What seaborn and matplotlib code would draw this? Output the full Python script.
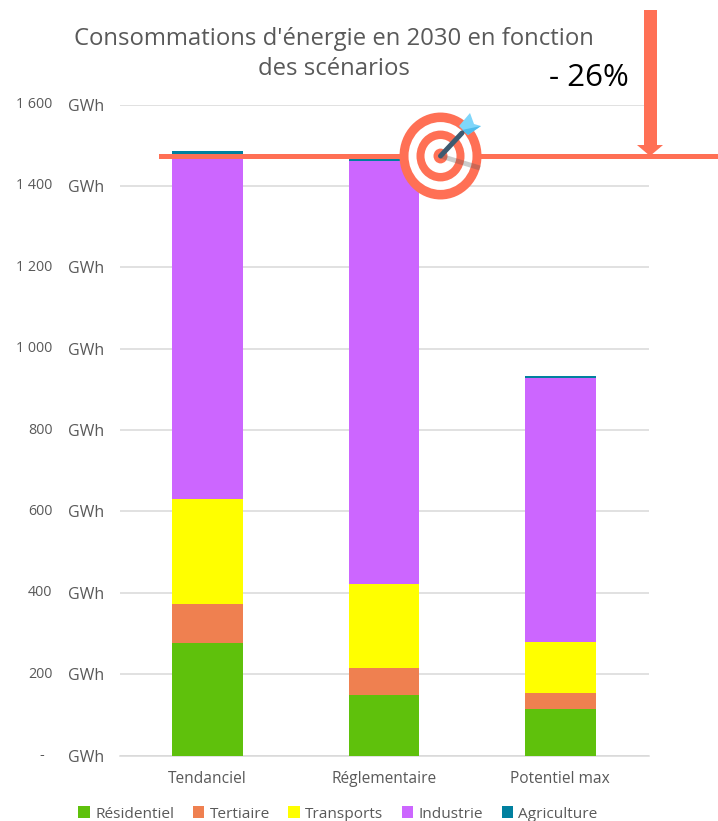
import matplotlib
matplotlib.use("Agg")
import matplotlib.pyplot as plt
from matplotlib.patches import Ellipse, Polygon, Rectangle
import numpy as np
import seaborn as sns

sns.set_style("white")
plt.rcParams["font.family"] = ["Open Sans", "DejaVu Sans"]

# Values (GWh)
scenarios = ["Tendanciel", "Réglementaire", "Potentiel max"]
residentiel = [276, 149, 114]
tertiaire = [96, 66, 39]
transports = [258, 206, 126]
industrie = [848, 1040, 650]
agriculture = [7, 5, 4]

sectors = ["Résidentiel", "Tertiaire", "Transports", "Industrie", "Agriculture"]
sector_values = [residentiel, tertiaire, transports, industrie, agriculture]
sector_colors = ["#5FC10C", "#EF8050", "#FFFF00", "#CC66FF", "#00809F"]

y_ticks = [0, 200, 400, 600, 800, 1000, 1200, 1400, 1600]
y_numbers = ["-", "200", "400", "600", "800", "1 000", "1 200", "1 400", "1 600"]

title_lines = ["Consommations d'énergie en 2030 en fonction", "des scénarios"]
reduction_label = "- 26%"

W, H = 718, 821
GREY = "#595959"
CORAL = "#FF7055"

fig = plt.figure(figsize=(W / 100, H / 100), dpi=100)
# plot area placed from pixel positions
ax = fig.add_axes([119.5 / W, 1 - 755.5 / H, 529 / W, 651 / H])

bottom = np.zeros(len(scenarios))
for name, vals, col in zip(sectors, sector_values, sector_colors):
    sns.barplot(x=scenarios, y=vals, bottom=bottom, color=col, saturation=1,
                width=0.4, label=name, legend=False, linewidth=0, ax=ax, zorder=3)
    bottom += np.array(vals)

ax.set_xlim(-0.5, 2.5)
ax.set_ylim(0, 1600)
ax.set_yticks(y_ticks)
ax.set_yticklabels(["GWh"] * len(y_ticks))
ax.tick_params(axis="y", length=0, pad=11, labelsize=11.5, labelcolor=GREY)
ax.tick_params(axis="x", length=0, pad=11, labelsize=11.2, labelcolor=GREY)
ax.grid(axis="y", color="#D9D9D9", lw=1.1, zorder=0)
ax.set_axisbelow(True)
sns.despine(ax=ax, left=True, top=True, right=True)
ax.spines["bottom"].set_color("#D9D9D9")
ax.spines["bottom"].set_linewidth(1.1)

# numbers sit in their own column left of the GWh unit
trans = ax.get_yaxis_transform()
for v, lab in zip(y_ticks, y_numbers):
    x_px = -75 if lab == "-" else -67
    ax.text(x_px / 529, v, lab, transform=trans, ha="right", va="center",
            fontsize=10.3, color=GREY)

ax.legend(*ax.get_legend_handles_labels(), loc="center", ncol=5, frameon=False,
          bbox_to_anchor=(338 / W, 1 - 814 / H), bbox_transform=fig.transFigure,
          fontsize=11.1, labelcolor=GREY, handlelength=0.75, handleheight=0.75,
          handletextpad=0.35, columnspacing=1.19, borderpad=0, borderaxespad=0)

fig.text(334 / W, 1 - 39 / H, title_lines[0], ha="center", va="center", fontsize=17.2, color=GREY)
fig.text(334 / W, 1 - 69 / H, title_lines[1], ha="center", va="center", fontsize=17.2, color=GREY)

# overlay in pixel coordinates for the target line, arrow and icon
over = fig.add_axes([0, 0, 1, 1], zorder=5)
over.set_xlim(0, W)
over.set_ylim(H, 0)
over.axis("off")
over.patch.set_alpha(0)

over.add_patch(Rectangle((159, 154), 559, 5, color=CORAL, lw=0))
over.add_patch(Rectangle((643.5, 10), 13, 137, color=CORAL, lw=0))
over.add_patch(Polygon([[637, 145], [663, 145], [650, 156]], color=CORAL, lw=0))
over.text(589, 78, reduction_label, ha="center", va="center", fontsize=22.5, color="black")

cx, cy = 440.5, 156
for r, col in zip([41, 32, 24, 16, 7], [CORAL, "white", CORAL, "white", CORAL]):
    over.add_patch(Ellipse((cx, cy), 2 * r, 2 * r * 1.06, color=col, lw=0))
over.plot([cx, 480], [cy, 168], color="#555555", alpha=0.3, lw=3.5, solid_capstyle="butt")
over.plot([cx, 462], [cy, 133], color="#3D5A70", lw=3.6, solid_capstyle="round")
over.add_patch(Polygon([[459, 126], [470, 113], [474, 124], [481, 126], [468, 135]],
                       color="#7FD6FA", lw=0))
over.add_patch(Polygon([[462, 130], [481, 126], [468, 135]], color="#4FBCEB", lw=0))

fig.savefig("out.png", dpi=100)
